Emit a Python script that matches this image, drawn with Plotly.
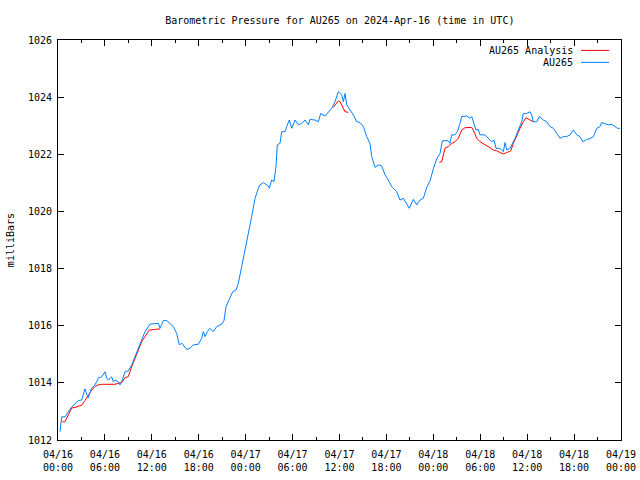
import pandas as pd
import plotly.graph_objects as go

BASE = pd.Timestamp("2024-04-16 00:00")

# AU265 observed series: hours since 2024-04-16 00:00 UTC, pressure (mb)
obs_hours = [0.26, 0.47, 0.90, 1.32, 1.75, 2.60, 3.03, 3.45, 3.84, 4.31, 4.73, 4.95, 5.15, 5.59,
             6.01, 6.23, 6.43, 6.87, 7.07, 7.29, 7.71, 7.93, 8.15, 8.57, 8.99, 9.43, 9.85, 10.27,
             10.70, 11.13, 11.77, 12.83, 13.05, 13.47, 13.90, 14.32, 14.75, 15.18, 15.51, 15.82,
             16.46, 16.88, 17.30, 17.94, 18.38, 18.58, 18.80, 19.09, 19.44, 19.86, 20.30, 20.94,
             21.23, 21.49, 22.00, 22.34, 22.76, 23.06, 23.49, 23.92, 24.34, 24.77, 25.20, 25.62,
             25.83, 26.26, 26.90, 27.02, 27.33, 27.62, 27.88, 28.05, 28.39, 28.61, 29.03, 29.25,
             29.58, 29.89, 30.31, 30.73, 31.17, 31.59, 32.01, 32.23, 32.87, 33.29, 33.60, 34.15,
             34.57, 35.00, 35.43, 35.85, 36.28, 36.49, 36.71, 36.92, 37.35, 37.77, 38.20, 38.62,
             39.05, 39.48, 39.90, 40.12, 40.54, 40.96, 41.40, 41.82, 42.24, 42.68, 43.32, 43.74,
             44.16, 44.60, 44.93, 45.44, 45.88, 46.30, 46.72, 47.15, 47.58, 48.00, 48.43, 48.86,
             49.15, 49.49, 49.92, 50.13, 50.35, 50.77, 51.07, 51.41, 51.63, 52.27, 52.69, 52.91,
             53.11, 53.46, 53.75, 53.97, 54.61, 55.03, 55.47, 55.76, 56.02, 56.53, 56.95, 57.17,
             57.39, 57.81, 58.03, 58.45, 58.87, 59.30, 59.51, 59.94, 60.37, 60.58, 60.79, 61.22,
             61.56, 62.07, 62.50, 62.92, 63.35, 63.78, 64.20, 64.63, 65.06, 65.48, 65.90, 66.34,
             66.76, 67.11, 67.62, 68.04, 68.47, 68.90, 69.32, 69.53, 69.96, 70.38, 70.81, 71.24,
             71.53, 71.88]
obs_mb = [1012.29, 1012.81, 1012.81, 1012.99, 1013.16, 1013.38, 1013.40, 1013.79, 1013.47, 1013.82,
          1013.93, 1014.04, 1014.17, 1014.21, 1014.39, 1014.17, 1014.10, 1014.21, 1014.04, 1014.10,
          1014.04, 1013.93, 1014.04, 1014.39, 1014.42, 1014.63, 1014.92, 1015.27, 1015.50, 1015.79,
          1016.06, 1016.08, 1015.91, 1016.18, 1016.18, 1016.08, 1015.97, 1015.73, 1015.33, 1015.39,
          1015.17, 1015.21, 1015.33, 1015.35, 1015.56, 1015.79, 1015.62, 1015.79, 1015.91, 1015.79,
          1015.97, 1016.06, 1016.18, 1016.67, 1017.02, 1017.19, 1017.25, 1017.48, 1018.07, 1018.71,
          1019.23, 1019.82, 1020.46, 1020.81, 1020.93, 1021.01, 1020.89, 1020.81, 1021.10, 1021.04,
          1021.57, 1022.33, 1022.38, 1022.79, 1022.79, 1022.97, 1023.20, 1022.91, 1023.20, 1023.03,
          1023.08, 1023.20, 1023.03, 1023.22, 1023.20, 1023.14, 1023.43, 1023.34, 1023.49, 1023.61,
          1023.84, 1024.19, 1024.08, 1023.84, 1024.13, 1023.73, 1023.55, 1023.38, 1023.14, 1023.11,
          1022.97, 1022.62, 1022.38, 1021.92, 1021.54, 1021.63, 1021.59, 1021.28, 1021.10, 1020.87,
          1020.69, 1020.40, 1020.46, 1020.28, 1020.11, 1020.42, 1020.23, 1020.40, 1020.46, 1020.84,
          1021.07, 1021.49, 1021.84, 1022.03, 1022.47, 1022.48, 1022.47, 1022.38, 1022.68, 1022.68,
          1022.79, 1023.08, 1023.32, 1023.34, 1023.26, 1023.32, 1023.14, 1022.85, 1022.87, 1022.68,
          1022.68, 1022.56, 1022.44, 1022.50, 1022.21, 1022.21, 1022.09, 1022.41, 1022.15, 1022.21,
          1022.33, 1022.56, 1022.85, 1023.14, 1023.43, 1023.43, 1023.49, 1023.38, 1023.14, 1023.14,
          1023.32, 1023.20, 1023.14, 1022.97, 1022.91, 1022.73, 1022.56, 1022.62, 1022.62, 1022.68,
          1022.85, 1022.68, 1022.62, 1022.44, 1022.52, 1022.55, 1022.62, 1022.91, 1022.97, 1023.11,
          1023.08, 1023.03, 1023.05, 1022.97, 1022.91, 1022.91]

# AU265 Analysis (three separate segments)
ana1_hours = [0.55, 0.90, 1.32, 1.75, 2.17, 2.60, 3.03, 3.45, 3.88, 4.31, 4.73, 5.15, 5.59, 7.29,
              7.71, 8.15, 8.57, 8.99, 9.43, 9.85, 10.27, 10.70, 11.13, 11.68, 12.41, 13.05]
ana1_mb = [1012.64, 1012.64, 1012.88, 1013.12, 1013.14, 1013.17, 1013.22, 1013.38, 1013.58, 1013.75,
           1013.87, 1013.93, 1013.95, 1013.95, 1013.98, 1014.01, 1014.18, 1014.22, 1014.57, 1014.86,
           1015.15, 1015.44, 1015.62, 1015.85, 1015.87, 1015.89]
ana2_hours = [35.21, 35.85, 36.07, 36.71, 37.13]
ana2_mb = [1023.64, 1023.87, 1023.84, 1023.49, 1023.47]
ana3_hours = [48.77, 49.07, 49.49, 49.92, 50.35, 50.77, 51.20, 51.63, 52.05, 52.91, 53.11, 53.55,
              53.97, 54.39, 54.83, 55.25, 55.67, 56.11, 56.53, 56.95, 57.39, 57.90, 58.23, 58.66,
              59.09, 59.51, 59.85, 60.37, 60.79]
ana3_mb = [1021.72, 1021.74, 1022.21, 1022.27, 1022.38, 1022.44, 1022.56, 1022.85, 1022.93, 1022.94,
           1022.85, 1022.56, 1022.44, 1022.38, 1022.29, 1022.23, 1022.15, 1022.12, 1022.06, 1022.01,
           1022.06, 1022.12, 1022.38, 1022.68, 1022.91, 1023.14, 1023.28, 1023.20, 1023.14]

tick_hours = [0, 6, 12, 18, 24, 30, 36, 42, 48, 54, 60, 66, 72]
tick_labels = ["04/16<br>00:00", "04/16<br>06:00", "04/16<br>12:00", "04/16<br>18:00",
               "04/17<br>00:00", "04/17<br>06:00", "04/17<br>12:00", "04/17<br>18:00",
               "04/18<br>00:00", "04/18<br>06:00", "04/18<br>12:00", "04/18<br>18:00",
               "04/19<br>00:00"]
y_ticks = [1012, 1014, 1016, 1018, 1020, 1022, 1024, 1026]


def to_time(hours):
    return [BASE + pd.Timedelta(hours=h) for h in hours]


RED = "#ff0000"
BLUE = "#0080ff"
FONT = "DejaVu Sans Mono"

fig = go.Figure()
for hrs, vals in [(ana1_hours, ana1_mb), (ana2_hours, ana2_mb), (ana3_hours, ana3_mb)]:
    fig.add_trace(go.Scatter(x=to_time(hrs), y=vals, mode="lines",
                             line=dict(color=RED, width=1), showlegend=False,
                             hoverinfo="skip"))
fig.add_trace(go.Scatter(x=to_time(obs_hours), y=obs_mb, mode="lines",
                         line=dict(color=BLUE, width=1), showlegend=False))

# gnuplot-style legend (text then line sample)
legend_items = [("AU265 Analysis", RED, 0.974), ("AU265", BLUE, 0.944)]
for label, color, yy in legend_items:
    fig.add_annotation(x=0.919, y=yy, xref="paper", yref="paper", text=label,
                       showarrow=False, xanchor="right", yanchor="middle",
                       font=dict(family=FONT, size=10, color="black"))
    fig.add_shape(type="line", xref="paper", yref="paper", x0=0.929, x1=0.979,
                  y0=yy, y1=yy, line=dict(color=color, width=1))

# y-axis title placed like gnuplot
fig.add_annotation(x=-0.085, y=0.5, xref="paper", yref="paper", text="milliBars",
                   textangle=-90, showarrow=False, xanchor="center", yanchor="middle",
                   font=dict(family=FONT, size=10, color="black"))

fig.update_layout(
    width=640, height=480,
    margin=dict(l=58, r=19, t=40, b=40),
    paper_bgcolor="white", plot_bgcolor="white",
    font=dict(family=FONT, size=10, color="black"),
    title=dict(text="Barometric Pressure for AU265 on 2024-Apr-16 (time in UTC)",
               x=0.531, xanchor="center", y=0.958, yanchor="middle",
               font=dict(family=FONT, size=10, color="black")),
    showlegend=False,
)
fig.update_xaxes(
    range=[BASE, BASE + pd.Timedelta(hours=72)],
    tickvals=to_time(tick_hours), ticktext=tick_labels,
    ticks="inside", ticklen=6, tickcolor="black", tickwidth=1,
    minor=dict(ticks="inside", ticklen=3, dtick=3 * 3600 * 1000, tickcolor="black",
               showgrid=False),
    showline=True, linecolor="black", linewidth=1, mirror="ticks",
    showgrid=False, zeroline=False, automargin=False, ticklabelstandoff=5,
    tickfont=dict(family=FONT, size=10),
)
fig.update_yaxes(
    range=[1012, 1026], tickvals=y_ticks,
    ticks="inside", ticklen=6, tickcolor="black", tickwidth=1,
    showline=True, linecolor="black", linewidth=1, mirror="ticks",
    showgrid=False, zeroline=False, automargin=False, ticklabelstandoff=3,
    tickfont=dict(family=FONT, size=10),
)

# remove the default page margin so the 640x480 figure fills the window exactly
fig.write_html("out.html", config={"displayModeBar": False},
               post_script="document.body.style.margin='0';document.body.style.overflow='hidden';")
